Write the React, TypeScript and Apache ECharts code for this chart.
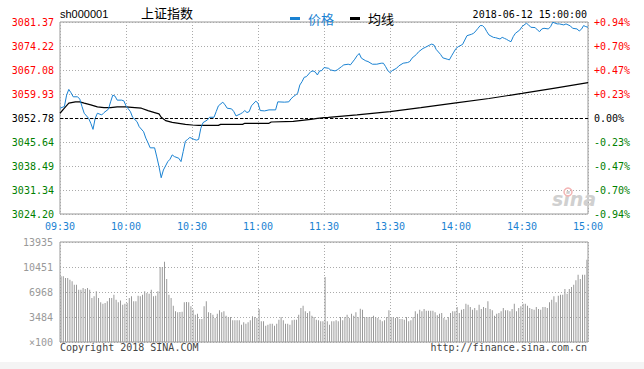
import React, { useEffect, useRef } from "react";
import * as echarts from "echarts";

// ---- tick labels ----
const TIME_LABELS = ["09:30", "10:00", "10:30", "11:00", "11:30", "13:30", "14:00", "14:30", "15:00"];
const PRICE_LABELS = ["3081.37", "3074.22", "3067.08", "3059.93", "3052.78", "3045.64", "3038.49", "3031.34", "3024.20"];
const PCT_LABELS = ["+0.94%", "+0.70%", "+0.47%", "+0.23%", "0.00%", "-0.23%", "-0.47%", "-0.70%", "-0.94%"];
const VOL_LABELS = ["×100", "3484", "6968", "10451", "13935"];

const PRICE_MIN = 3024.2;
const PRICE_MAX = 3081.37;
const PREV_CLOSE = 3052.78;
const VOL_MAX = 13935;

// ---- price series (minute index from 09:30, price) ----
const PRICE_T = [
  0, 2, 3, 4, 5, 6, 8, 9, 10, 11, 13, 14, 15, 16, 17, 19, 20, 22, 23, 24, 25, 26, 28, 29, 30,
  32, 33, 35, 36, 38, 39, 40, 41, 43, 44, 45, 46, 47, 49, 50, 51, 52, 54, 55, 56, 57, 58, 59,
  61, 62, 63, 64, 65, 67, 68, 70, 71, 72, 74, 75, 76, 78, 79, 80, 82, 83, 84, 85, 86, 87, 89,
  90, 91, 93, 95, 98, 99, 102, 104, 105, 106, 108, 109, 110, 111, 112, 114, 115, 116, 117, 118,
  119, 120, 122, 123, 125, 126, 128, 129, 131, 132, 134, 135, 136, 137, 139, 140, 142, 144, 146,
  147, 148, 149, 150, 151, 153, 154, 156, 158, 159, 160, 162, 163, 165, 166, 168, 169, 170, 171,
  173, 174, 176, 177, 178, 179, 180, 181, 183, 184, 185, 187, 188, 189, 190, 191, 192, 193, 194,
  195, 197, 198, 200, 201, 202, 203, 204, 205, 206, 207, 209, 210, 212, 213, 214, 216, 217, 218,
  219, 220, 222, 223, 224, 226, 227, 229, 230, 232, 233, 235, 236, 237, 238, 239, 240,
];
const PRICE_V = [
  3055.7, 3056.2, 3059.6, 3061.3, 3060.3, 3059.1, 3059.1, 3058.4, 3056.2, 3054.2, 3052.7, 3051.2,
  3049.4, 3052.7, 3054.2, 3053.7, 3054.4, 3055.4, 3057.6, 3059.6, 3059.3, 3058.1, 3058.1, 3057.9,
  3056.4, 3054.7, 3053.0, 3051.7, 3050.2, 3048.7, 3046.8, 3045.4, 3043.9, 3043.9, 3041.2, 3038.3,
  3035.0, 3037.3, 3039.8, 3040.5, 3041.8, 3041.3, 3040.8, 3039.8, 3042.8, 3045.9, 3046.4, 3047.0,
  3046.4, 3046.2, 3046.4, 3049.7, 3051.4, 3052.2, 3053.0, 3053.0, 3054.7, 3056.4, 3057.5, 3056.7,
  3055.7, 3055.5, 3054.7, 3053.4, 3054.0, 3054.4, 3055.0, 3054.4, 3054.7, 3056.4, 3057.8, 3057.2,
  3055.0, 3054.9, 3055.2, 3055.2, 3057.6, 3057.5, 3057.6, 3058.5, 3059.1, 3060.1, 3062.6, 3063.6,
  3064.9, 3065.1, 3066.6, 3066.8, 3066.5, 3065.6, 3066.8, 3066.9, 3067.8, 3067.6, 3067.1, 3066.8,
  3067.1, 3068.1, 3068.6, 3068.8, 3068.6, 3070.3, 3071.3, 3072.0, 3070.6, 3069.8, 3069.6, 3068.8,
  3068.8, 3069.1, 3069.1, 3068.1, 3066.9, 3066.3, 3066.9, 3067.6, 3068.3, 3069.1, 3069.3, 3069.6,
  3070.6, 3071.7, 3072.5, 3073.5, 3073.8, 3074.5, 3074.8, 3074.5, 3073.2, 3071.7, 3070.7, 3070.3,
  3070.1, 3071.3, 3072.4, 3073.5, 3074.0, 3074.7, 3076.0, 3077.3, 3077.7, 3078.0, 3078.7, 3079.5,
  3080.3, 3080.3, 3079.7, 3078.5, 3077.5, 3076.8, 3076.7, 3076.3, 3076.8, 3076.5, 3076.2, 3075.8,
  3075.5, 3077.0, 3078.0, 3079.0, 3080.0, 3081.0, 3080.5, 3079.8, 3079.7, 3079.0, 3078.5, 3079.3,
  3079.5, 3079.3, 3080.0, 3081.3, 3080.8, 3080.8, 3080.5, 3080.8, 3080.2, 3079.5, 3079.3, 3078.7,
  3079.2, 3080.3, 3080.0, 3079.8,
];

// ---- average line (minute index, price) ----
const AVG_T = [
  0, 2, 4, 7, 9, 11, 14, 17, 20, 23, 26, 30, 34, 37, 40, 43, 45, 46, 48, 51, 54, 57, 60, 63, 72,
  73, 83, 84, 95, 96, 106, 110, 114, 117, 120, 122, 135, 150, 164, 180, 195, 210, 225, 240,
];
const AVG_V = [
  3054.2, 3055.7, 3057.2, 3057.6, 3057.6, 3057.2, 3056.7, 3056.1, 3055.9, 3055.9, 3056.1, 3056.1,
  3055.9, 3055.7, 3055.0, 3054.4, 3054.0, 3053.0, 3052.0, 3051.5, 3051.2, 3050.9, 3050.7, 3050.6,
  3050.6, 3050.9, 3050.9, 3051.2, 3051.2, 3051.6, 3051.8, 3052.1, 3052.4, 3052.7, 3052.9, 3053.0,
  3053.7, 3054.7, 3055.85, 3057.3, 3058.6, 3060.1, 3061.7, 3063.3,
];

// ---- volume, one bar per minute (x100) ----
const VOLUME = [
  9150, 9150, 8920, 8920, 8690, 8450, 7990, 7990, 7290, 7290,
  7520, 7400, 7520, 7290, 6130, 6360, 7060, 6130, 5530, 5340,
  5440, 5670, 6130, 6130, 6600, 5900, 5530, 5800, 5200, 5340,
  5440, 6130, 6360, 5670, 5670, 6460, 6360, 6600, 7060, 6830,
  6740, 7290, 6360, 6460, 7060, 10450, 10450, 11190, 8780, 6600,
  6130, 5060, 4270, 4130, 4180, 4230, 5530, 5580, 5530, 4970,
  4510, 3810, 3950, 3200, 3200, 4970, 5670, 4130, 4040, 3810,
  3340, 3950, 4410, 4130, 4270, 3670, 3480, 3480, 3020, 3020,
  3020, 3020, 2420, 2740, 2550, 2740, 3020, 3580, 3480, 3340,
  4600, 2880, 2880, 2280, 2420, 2550, 2550, 2280, 2550, 3110,
  3480, 3020, 2550, 2550, 2420, 3020, 3110, 3110, 3810, 4740,
  5060, 4270, 4040, 4270, 3670, 3480, 3110, 3020, 2880, 2880,
  9060, 2880, 2420, 2880, 2880, 3020, 2880, 3480, 3020, 3480,
  3810, 3340, 3950, 3670, 4130, 3480, 4650, 4510, 3480, 3480,
  3480, 3480, 3670, 3480, 3340, 3110, 2880, 3020, 3480, 4410,
  3480, 3480, 3340, 3480, 3200, 3200, 3110, 3480, 2880, 3020,
  3480, 4270, 3950, 4510, 4270, 4600, 4370, 4370, 4370, 4370,
  4130, 3720, 3950, 4040, 3340, 3110, 3480, 4040, 4270, 4270,
  4880, 4040, 4510, 4600, 5340, 5200, 4880, 4510, 4740, 4410,
  5200, 4600, 4880, 4740, 5670, 4600, 4410, 3670, 3950, 4040,
  4270, 4740, 4410, 4410, 4270, 4600, 5340, 4270, 4740, 4970,
  5340, 5340, 5060, 4740, 4600, 4510, 4880, 4600, 4510, 4880,
  4880, 4740, 5530, 5900, 6360, 5530, 6460, 6600, 6600, 7390,
  6740, 7390, 7660, 7990, 8590, 9380, 8780, 9380, 9380, 11470,
];

const MONO = "'DejaVu Sans Mono', 'Liberation Mono', monospace";
const BLUE = "#1a82d2";
const GRID_LINE = { show: true, lineStyle: { color: "#aaaaaa", type: [1, 2] as any, width: 1 } };

export default function App() {
  const ref = useRef<HTMLDivElement>(null);

  useEffect(() => {
    document.body.style.margin = "0";
    if (!ref.current) return;
    const chart = echarts.init(ref.current, undefined, { renderer: "svg" });

    const P_INT = (PRICE_MAX - PRICE_MIN) / 8;
    const V_INT = VOL_MAX / 4;
    const pIdx = (v: number) => 8 - Math.round(v / P_INT);
    const pColor = (v: any) => {
      const i = pIdx(Number(v));
      return i < 4 ? "#ff0000" : i === 4 ? "#000000" : "#008000";
    };

    const option: any = {
      animation: false,
      backgroundColor: "#ffffff",
      legend: {
        left: 285,
        top: 7,
        itemWidth: 10,
        itemHeight: 3,
        itemGap: 16,
        icon: "rect",
        textStyle: { fontSize: 13, fontFamily: "'Noto Sans CJK SC', sans-serif", padding: [0, 0, 0, 3] },
        data: [
          { name: "价格", textStyle: { color: BLUE } },
          { name: "均线", textStyle: { color: "#000" } },
        ],
      },
      grid: [
        { left: 60, top: 22, width: 528, height: 192, show: true, borderColor: "#999999", borderWidth: 1 },
        { left: 60, top: 242, width: 528, height: 100, show: true, borderColor: "#999999", borderWidth: 1 },
      ],
      xAxis: [
        {
          type: "value",
          gridIndex: 0,
          min: 0,
          max: 240,
          interval: 30,
          axisLine: { show: false },
          axisTick: { show: false },
          splitLine: GRID_LINE,
          axisLabel: {
            margin: 7,
            color: BLUE,
            fontFamily: MONO,
            fontSize: 10,
            showMinLabel: true,
            showMaxLabel: true,
            formatter: (v: number) => TIME_LABELS[Math.round(v / 30)] ?? "",
          },
        },
        {
          type: "category",
          gridIndex: 1,
          data: VOLUME.map((_, i) => String(i)),
          boundaryGap: true,
          axisLine: { show: false },
          axisTick: { show: false },
          axisLabel: { show: false },
          splitLine: { ...GRID_LINE, interval: 29 },
        },
      ],
      yAxis: [
        {
          type: "value",
          gridIndex: 0,
          min: 0,
          max: PRICE_MAX - PRICE_MIN,
          interval: P_INT,
          axisLine: { show: false },
          axisTick: { show: false },
          splitLine: GRID_LINE,
          axisLabel: {
            margin: 6,
            fontFamily: MONO,
            fontSize: 10,
            showMinLabel: true,
            showMaxLabel: true,
            color: pColor,
            formatter: (v: number) => PRICE_LABELS[pIdx(v)] ?? "",
          },
        },
        {
          type: "value",
          gridIndex: 0,
          position: "right",
          min: 0,
          max: PRICE_MAX - PRICE_MIN,
          interval: P_INT,
          axisLine: { show: false },
          axisTick: { show: false },
          splitLine: { show: false },
          axisLabel: {
            margin: 6,
            fontFamily: MONO,
            fontSize: 10,
            showMinLabel: true,
            showMaxLabel: true,
            color: pColor,
            formatter: (v: number) => PCT_LABELS[pIdx(v)] ?? "",
          },
        },
        {
          type: "value",
          gridIndex: 1,
          min: 0,
          max: VOL_MAX,
          interval: V_INT,
          axisLine: { show: false },
          axisTick: { show: false },
          splitLine: GRID_LINE,
          axisLabel: {
            margin: 7,
            color: "#999999",
            fontFamily: MONO,
            fontSize: 10,
            showMinLabel: true,
            showMaxLabel: true,
            formatter: (v: number) => VOL_LABELS[Math.round(v / V_INT)] ?? "",
          },
        },
      ],
      series: [
        {
          name: "价格",
          type: "line",
          xAxisIndex: 0,
          yAxisIndex: 0,
          data: PRICE_T.map((t, i) => [t, PRICE_V[i] - PRICE_MIN]),
          showSymbol: false,
          symbol: "none",
          color: BLUE,
          lineStyle: { color: BLUE, width: 1 },
          z: 3,
          markLine: {
            silent: true,
            symbol: "none",
            label: { show: false },
            lineStyle: { color: "#000", type: [3, 2], width: 1 },
            data: [{ yAxis: PREV_CLOSE - PRICE_MIN }],
          },
        },
        {
          name: "均线",
          type: "line",
          xAxisIndex: 0,
          yAxisIndex: 0,
          data: AVG_T.map((t, i) => [t, AVG_V[i] - PRICE_MIN]),
          showSymbol: false,
          symbol: "none",
          color: "#000",
          lineStyle: { color: "#000", width: 1.2 },
          z: 2,
        },
        {
          name: "成交量",
          type: "bar",
          xAxisIndex: 1,
          yAxisIndex: 2,
          data: VOLUME,
          barWidth: 1,
          itemStyle: { color: "#999999" },
        },
      ],
      graphic: [
        {
          type: "text",
          left: 60,
          top: 8,
          style: { text: "sh000001", fill: "#000", font: "11px 'Liberation Sans', Arial, sans-serif" },
        },
        {
          type: "text",
          left: 141,
          top: 6,
          style: { text: "上证指数", fill: "#000", font: "13px 'Noto Sans CJK SC', sans-serif" },
        },
        {
          type: "text",
          right: 57,
          top: 9,
          style: { text: "2018-06-12 15:00:00", fill: "#000", font: "10px " + MONO },
        },
        {
          type: "text",
          left: 60,
          top: 342,
          style: { text: "Copyright 2018 SINA.COM", fill: "#444", font: "10px " + MONO },
        },
        {
          type: "text",
          right: 57,
          top: 342,
          style: { text: "http://finance.sina.com.cn", fill: "#444", font: "10px " + MONO },
        },
        {
          type: "text",
          left: 552,
          top: 189,
          style: {
            text: "sina",
            fill: "#d0d0d0",
            font: "italic bold 19px 'DejaVu Sans', sans-serif",
          },
          z: 1,
        },
        {
          type: "circle",
          shape: { cx: 568, cy: 192, r: 4 },
          style: { fill: "none", stroke: "#f3b5b5", lineWidth: 1.5 },
          z: 1,
        },
        {
          type: "rect",
          shape: { x: 0, y: 362, width: 644, height: 7 },
          style: { fill: "#f4f4f4" },
        },
      ],
    };

    chart.setOption(option);
    return () => chart.dispose();
  }, []);

  return <div ref={ref} style={{ width: 644, height: 369 }} />;
}
